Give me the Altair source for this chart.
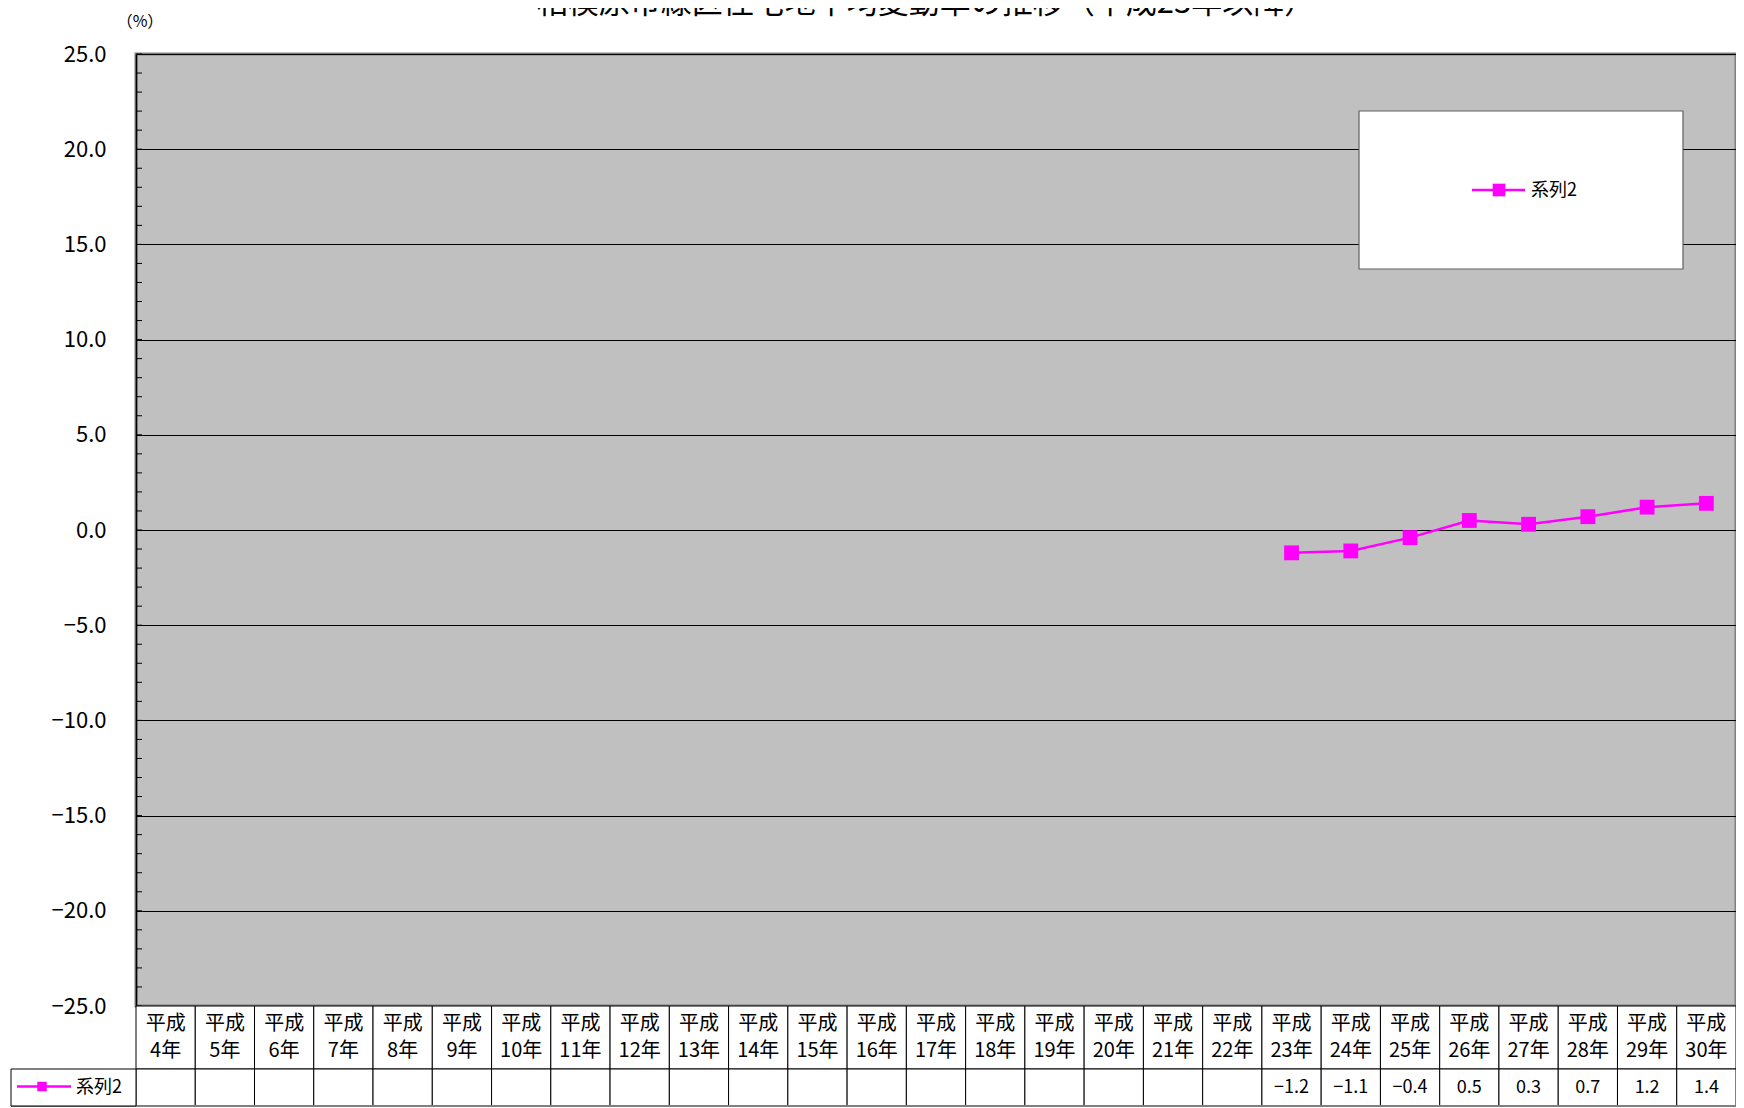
import altair as alt
import pandas as pd

# ---- data ----
categories = ["平成4年", "平成5年", "平成6年", "平成7年", "平成8年", "平成9年", "平成10年",
              "平成11年", "平成12年", "平成13年", "平成14年", "平成15年", "平成16年",
              "平成17年", "平成18年", "平成19年", "平成20年", "平成21年", "平成22年",
              "平成23年", "平成24年", "平成25年", "平成26年", "平成27年", "平成28年",
              "平成29年", "平成30年"]
era_labels = ["平成"] * 27
year_labels = ["4年", "5年", "6年", "7年", "8年", "9年", "10年", "11年", "12年", "13年",
               "14年", "15年", "16年", "17年", "18年", "19年", "20年", "21年", "22年",
               "23年", "24年", "25年", "26年", "27年", "28年", "29年", "30年"]
series_cats = ["平成23年", "平成24年", "平成25年", "平成26年", "平成27年", "平成28年",
               "平成29年", "平成30年"]
series_values = [-1.2, -1.1, -0.4, 0.5, 0.3, 0.7, 1.2, 1.4]
series_name = "系列2"
y_major_ticks = [-25, -20, -15, -10, -5, 0, 5, 10, 15, 20, 25]
y_minor_ticks = [-25, -24, -23, -22, -21, -20, -19, -18, -17, -16, -15, -14, -13, -12,
                 -11, -10, -9, -8, -7, -6, -5, -4, -3, -2, -1, 0, 1, 2, 3, 4, 5, 6, 7,
                 8, 9, 10, 11, 12, 13, 14, 15, 16, 17, 18, 19, 20, 21, 22, 23, 24, 25]
title_text = "相模原市緑区住宅地平均変動率の推移（平成23年以降）"
unit_text = "（%）"

# ---- layout ----
W, H = 1600, 952
HEAD_H = 63
ROW_H = 37
FONT = "Noto Sans CJK JP"
MAGENTA = "#FF00FF"

cat_df = pd.DataFrame({"cat": categories, "era": era_labels, "yr": year_labels})
ser_df = pd.DataFrame({"cat": series_cats, "val": series_values,
                       "lbl": [f"{v:.1f}".replace("-", "−") for v in series_values]})
tick_df = pd.DataFrame({"val": y_minor_ticks})
one_df = pd.DataFrame({"name": [series_name]})

x_scale = alt.Scale(type="band", domain=categories, paddingInner=0, paddingOuter=0)
y_scale = alt.Scale(domain=[-25, 25], nice=False, zero=False)


def xenc(center=True):
    if center:
        return alt.X("cat:N", scale=x_scale, axis=None, bandPosition=0.5)
    return alt.X("cat:N", scale=x_scale, axis=None)


y_axis = alt.Axis(values=y_major_ticks, format=".1f", grid=True, gridColor="black",
                  gridWidth=1, gridOpacity=1, ticks=False, domain=True, domainColor="black",
                  domainWidth=1.5, labelPadding=30, labelFontSize=22, labelFont=FONT,
                  labelColor="black", title=None)


def yenc():
    return alt.Y("val:Q", scale=y_scale, axis=y_axis)


# series line + markers
line = alt.Chart(ser_df).mark_line(color=MAGENTA, strokeWidth=2.5).encode(
    x=xenc(), y=yenc())
pts = alt.Chart(ser_df).mark_point(shape="square", filled=True, size=220,
                                   color=MAGENTA, opacity=1).encode(
    x=xenc(), y=yenc())

# minor ticks (inward)
minor = alt.Chart(tick_df).mark_rule(color="black", strokeWidth=1).encode(
    y=yenc(), x=alt.value(0), x2=alt.value(6))

# data table: header cells and value cells
head_cells = alt.Chart(cat_df).mark_rect(fill="white", stroke="black", strokeWidth=1).encode(
    x=xenc(False), y=alt.value(H), y2=alt.value(H + HEAD_H))
val_cells = alt.Chart(cat_df).mark_rect(fill="white", stroke="black", strokeWidth=1).encode(
    x=xenc(False), y=alt.value(H + HEAD_H), y2=alt.value(H + HEAD_H + ROW_H))
era_txt = alt.Chart(cat_df).mark_text(font=FONT, fontSize=20, color="black",
                                      baseline="middle").encode(
    x=xenc(), y=alt.value(H + 18), text="era:N")
yr_txt = alt.Chart(cat_df).mark_text(font=FONT, fontSize=20, color="black",
                                     baseline="middle").encode(
    x=xenc(), y=alt.value(H + 45), text="yr:N")
val_txt = alt.Chart(ser_df).mark_text(font=FONT, fontSize=18, color="black",
                                      baseline="middle").encode(
    x=xenc(), y=alt.value(H + HEAD_H + ROW_H / 2), text="lbl:N")
bottom_line = alt.Chart(one_df).mark_rule(color="#808080", strokeWidth=2).encode(
    x=alt.value(-125), x2=alt.value(W), y=alt.value(H + HEAD_H + ROW_H))

# legend key cell in the table
key_cell = alt.Chart(one_df).mark_rect(fill="white", stroke="black", strokeWidth=1).encode(
    x=alt.value(-125), x2=alt.value(0), y=alt.value(H + HEAD_H),
    y2=alt.value(H + HEAD_H + ROW_H))
key_line = alt.Chart(one_df).mark_rule(color=MAGENTA, strokeWidth=2.5).encode(
    x=alt.value(-119), x2=alt.value(-65), y=alt.value(H + HEAD_H + ROW_H / 2 - 1))
key_sq = alt.Chart(one_df).mark_point(shape="square", filled=True, size=90, color=MAGENTA,
                                      opacity=1).encode(
    x=alt.value(-94), y=alt.value(H + HEAD_H + ROW_H / 2 - 1))
key_txt = alt.Chart(one_df).mark_text(font=FONT, fontSize=18, color="black", align="left",
                                      baseline="middle").encode(
    x=alt.value(-60), y=alt.value(H + HEAD_H + ROW_H / 2), text="name:N")

# legend box inside plot
leg_box = alt.Chart(one_df).mark_rect(fill="white", stroke="#606060", strokeWidth=1.2).encode(
    x=alt.value(1223), x2=alt.value(1547), y=alt.value(57), y2=alt.value(215))
leg_line = alt.Chart(one_df).mark_rule(color=MAGENTA, strokeWidth=2.5).encode(
    x=alt.value(1336), x2=alt.value(1389), y=alt.value(136))
leg_sq = alt.Chart(one_df).mark_point(shape="square", filled=True, size=160, color=MAGENTA,
                                      opacity=1).encode(
    x=alt.value(1363), y=alt.value(136))
leg_txt = alt.Chart(one_df).mark_text(font=FONT, fontSize=18, color="black", align="left",
                                      baseline="middle").encode(
    x=alt.value(1395), y=alt.value(137), text="name:N")

# title and unit
title_df = pd.DataFrame({"t": [title_text]})
unit_df = pd.DataFrame({"t": [unit_text]})
title_mark = alt.Chart(title_df).mark_text(font=FONT, fontSize=31, color="black",
                                           baseline="bottom").encode(
    x=alt.value(790), y=alt.value(-34), text="t:N")
unit_mark = alt.Chart(unit_df).mark_text(font=FONT, fontSize=16, color="black",
                                         baseline="middle").encode(
    x=alt.value(4), y=alt.value(-32), text="t:N")

chart = alt.layer(
    line, minor, head_cells, val_cells, era_txt, yr_txt, val_txt, bottom_line,
    key_cell, key_line, key_sq, key_txt, leg_box, leg_line, leg_sq, leg_txt,
    pts, title_mark, unit_mark
).properties(
    width=W, height=H,
    autosize=alt.AutoSizeParams(type="none"),
    padding={"left": 128, "top": 46, "right": 0, "bottom": 102},
    background="white",
).configure_view(
    fill="#C0C0C0", stroke="#808080", strokeWidth=3
)

chart.save("out.html", embed_options={"renderer": "svg", "actions": False})
